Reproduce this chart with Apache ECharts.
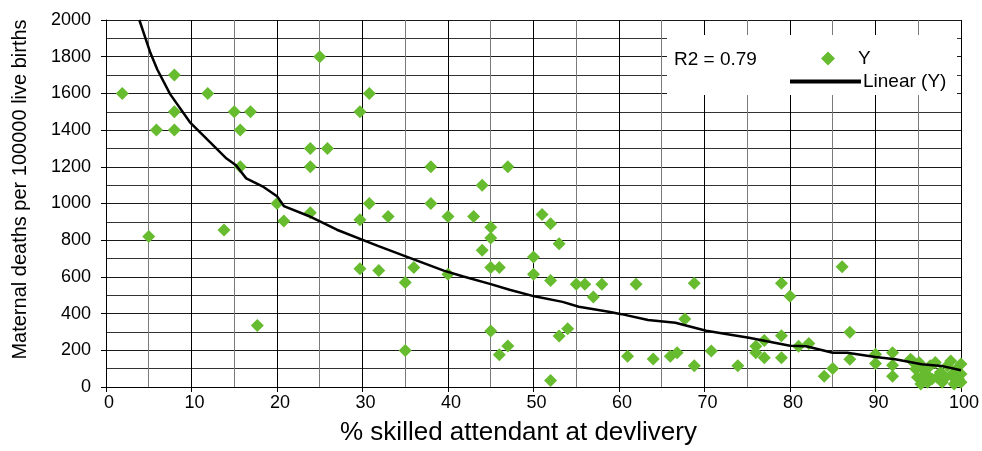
<!DOCTYPE html>
<html>
<head>
<meta charset="utf-8">
<script src="https://cdn.jsdelivr.net/npm/echarts@6/dist/echarts.min.js"></script>
<style>
html,body{margin:0;padding:0;background:#fff;}
#chart{width:982px;height:451px;}
</style>
</head>
<body>
<div id="chart"></div>
<script>
// % skilled attendant at delivery (x) and maternal deaths per 100000 live births (y)
var pointX = [1.9, 8, 8, 8, 5.9, 11.9, 15, 16.9, 15.7, 15.7, 25, 23.9, 25.9, 23.9, 29.7, 30.8,
  5, 13.8, 17.7, 20, 20.8, 23.9, 29.7, 30.8, 33, 29.7, 31.9,
  38, 47, 44, 38, 40, 43, 51, 52, 45, 45, 44, 53, 50, 35, 36, 40, 45, 46, 50, 52, 55, 56, 57, 58, 62,
  45, 53, 54, 47, 46, 35, 52, 61, 64, 66,
  86.1, 68.8, 79, 80, 67.7, 87, 79, 77, 76, 81, 82.2, 70.8, 66.8, 76, 77, 79, 87, 90, 90, 68.8, 73.9, 85, 84,
  92, 92, 92, 94.1, 95.1,
  94.3, 94.7, 94.9, 95.3, 95.9, 96.1, 96.4, 97.0, 97.2, 97.6, 97.8, 98.4, 98.8, 99.0, 99.2, 99.5, 99.7,
  100, 100, 100, 99.3, 98.2, 96.6, 95.7, 95.5];
var pointY = [1600, 1700, 1500, 1400, 1400, 1600, 1500, 1500, 1400, 1200, 1800, 1300, 1300, 1200, 1500, 1600,
  820, 855, 335, 1000, 905, 950, 912, 1000, 929, 645, 635,
  1200, 1200, 1100, 1000, 929, 929, 940, 890, 870, 812, 745, 780, 708, 570, 651, 615, 651, 651, 615, 580, 560, 560, 490, 560, 560,
  305, 278, 317, 224, 176, 199, 36, 167, 152, 167,
  655, 566, 566, 495, 370, 299, 279, 254, 222, 222, 237, 196, 187, 187, 160, 160, 151, 178, 128, 116, 116, 101, 59,
  187, 119, 58, 151, 134,
  142, 98, 53, 17, 71, 26, 116, 134, 53, 80, 26, 116, 142, 71, 17, 98, 44,
  125, 71, 26, 44, 53, 44, 44, 98];
// trend line
var trendX = [3.9, 5.2, 6.0, 7.5, 9.8, 12.1, 14.1, 15.2, 16.4, 18.3, 20, 20.8, 23.7, 27, 31.8, 34.9, 39.5, 41.8,
  44.9, 47.2, 50.1, 53.4, 55.3, 58.8, 60.3, 63.4, 66.6, 70.2, 75.2, 80, 81.9, 85, 86.7, 90, 92.3, 95.4, 97.7, 100];
var trendY = [2000, 1820, 1730, 1596, 1444, 1337, 1245, 1209, 1137, 1094, 1040, 986, 932, 857, 769, 715, 634, 602,
  562, 530, 494, 464, 437, 410, 397, 365, 350, 307, 268, 225, 222, 187, 187, 164, 151, 124, 115, 91];
var xTicks = ['0', '10', '20', '30', '40', '50', '60', '70', '80', '90', '100'];
var yTicks = ['0', '200', '400', '600', '800', '1000', '1200', '1400', '1600', '1800', '2000'];
var r2Text = 'R2 = 0.79';

var FONT = '"Liberation Sans", Arial, sans-serif';
var scatterData = pointX.map(function (x, i) { return [x, pointY[i]]; });
var trendData = trendX.map(function (x, i) { return [x, trendY[i]]; });

var chart = echarts.init(document.getElementById('chart'), null, {renderer: 'canvas'});
chart.setOption({
  animation: false,
  backgroundColor: '#fff',
  textStyle: {fontFamily: FONT},
  grid: {left: 106, right: 12, top: 20, bottom: 60, containLabel: false},
  xAxis: {
    type: 'value', min: 0, max: 100, interval: 10,
    name: '% skilled attendant at devlivery', nameLocation: 'middle', nameGap: 33,
    nameTextStyle: {fontSize: 26, color: '#000', fontFamily: FONT, padding: [0, 30, 0, 0]},
    axisLine: {show: true, lineStyle: {color: '#000', width: 1}},
    axisTick: {show: true, length: 5, lineStyle: {color: '#000'}},
    axisLabel: {fontSize: 18, color: '#000', margin: 7, fontFamily: FONT, padding: [0, 0, 0, 6],
      formatter: function (v) { return xTicks[Math.round(v / 10)]; }},
    splitLine: {show: true, lineStyle: {color: '#000', width: 1}},
    minorTick: {show: false, splitNumber: 2},
    minorSplitLine: {show: true, lineStyle: {color: '#7a7a7a', width: 1}}
  },
  yAxis: {
    type: 'value', min: 0, max: 2000, interval: 200,
    name: 'Maternal deaths per 100000 live births', nameLocation: 'middle', nameGap: 76,
    nameTextStyle: {fontSize: 20, color: '#000', fontFamily: FONT, padding: [0, 0, 0, 28]},
    axisLine: {show: true, lineStyle: {color: '#000', width: 1}},
    axisTick: {show: true, length: 5, lineStyle: {color: '#000'}},
    axisLabel: {fontSize: 18, color: '#000', margin: 15, fontFamily: FONT,
      formatter: function (v) { return yTicks[Math.round(v / 200)]; }},
    splitLine: {show: true, lineStyle: {color: '#1a1a1a', width: 1}},
    minorTick: {show: false, splitNumber: 2},
    minorSplitLine: {show: true, lineStyle: {color: '#333', width: 1}}
  },
  legend: [{
    data: ['Y'], orient: 'vertical', left: 816, top: 44, z: 120,
    icon: 'diamond', itemWidth: 14, itemHeight: 14,
    textStyle: {fontSize: 19, color: '#000', fontFamily: FONT, padding: [0, 0, 0, 18]},
    selectedMode: false
  }, {
    data: ['Linear (Y)'], orient: 'vertical', left: 785, top: 67, z: 120,
    icon: 'rect', itemWidth: 71, itemHeight: 4,
    itemStyle: {color: '#000'},
    textStyle: {fontSize: 19, color: '#000', fontFamily: FONT, padding: [0, 0, 0, -3]},
    selectedMode: false
  }],
  graphic: [{
    type: 'rect', z: 100, shape: {x: 667, y: 35, width: 290, height: 60},
    style: {fill: '#fff', stroke: null}
  }, {
    type: 'text', z: 110, x: 674, y: 60,
    style: {text: r2Text, fontSize: 19, fill: '#000', fontFamily: FONT, verticalAlign: 'middle'}
  }],
  series: [{
    name: 'Y', type: 'scatter', symbol: 'diamond', symbolSize: 13,
    itemStyle: {color: '#66BB2E', opacity: 1},
    data: scatterData, z: 3
  }, {
    name: 'Linear (Y)', type: 'line', showSymbol: false, symbol: 'none', smooth: false,
    lineStyle: {color: '#000', width: 2.5},
    itemStyle: {color: '#000'},
    data: trendData, z: 4, clip: true
  }]
});
</script>
</body>
</html>
